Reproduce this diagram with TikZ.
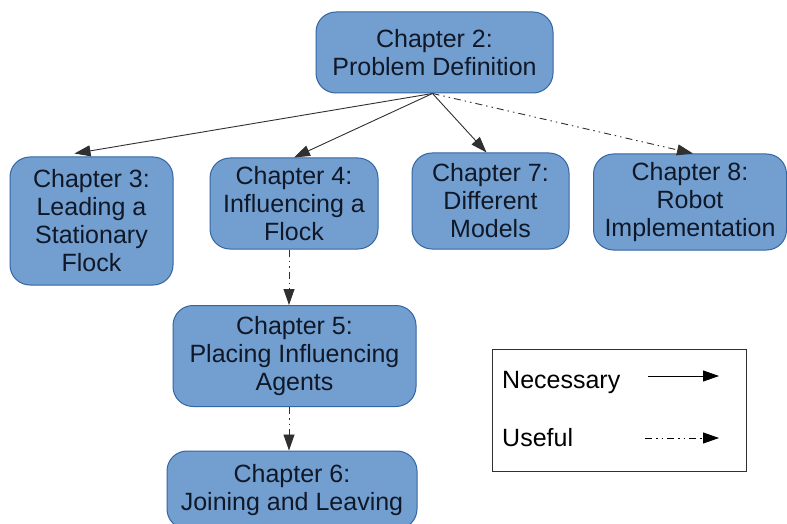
\documentclass[tikz,border=0pt]{standalone}
\usepackage{fontspec}
\setmainfont{Liberation Sans}
\usetikzlibrary{arrows.meta}
\definecolor{boxfill}{HTML}{729FCF}
\definecolor{boxline}{HTML}{3465A4}
\definecolor{inkc}{HTML}{101828}
\definecolor{linec}{HTML}{303030}
\newcommand{\chapfont}{\fontsize{25}{28}\selectfont}
\tikzset{
  chap/.style={draw=boxline, fill=boxfill, line width=1pt, rounded corners=20pt,
    align=center, font=\chapfont, text=inkc, inner sep=0pt},
  needed/.style={draw=linec, line width=0.9pt, -{Triangle[length=16pt,width=11pt]}},
  useful/.style={draw=linec, line width=0.9pt,
    dash pattern=on 7pt off 4pt on 1.5pt off 4pt on 1.5pt off 4pt,
    -{Triangle[length=16pt,width=11pt]}},
  legtext/.style={font=\chapfont, text=black, anchor=west, inner sep=0pt}
}
\begin{document}
\begin{tikzpicture}[x=1pt,y=-1pt]
\clip (0,0) rectangle (787,524);
\fill[white] (0,0) rectangle (787,524);

% chapter boxes
\node[chap, minimum width=237, minimum height=81] (c2) at (434.5,52.5) {Chapter 2:\\Problem Definition};
\node[chap, minimum width=163, minimum height=128] (c3) at (91.5,221) {Chapter 3:\\Leading a\\Stationary\\Flock};
\node[chap, minimum width=168, minimum height=91] (c4) at (294,203.5) {Chapter 4:\\Influencing a\\Flock};
\node[chap, minimum width=157, minimum height=96] (c7) at (490.5,201) {Chapter 7:\\Different\\Models};
\node[chap, minimum width=193, minimum height=96] (c8) at (690,202) {Chapter 8:\\Robot\\Implementation};
\node[chap, minimum width=243, minimum height=101] (c5) at (294.5,356) {Chapter 5:\\Placing Influencing\\Agents};
\node[chap, minimum width=250, minimum height=78] (c6) at (292,490) {Chapter 6:\\Joining and Leaving};

% dependencies
\coordinate (hub) at ([xshift=-2pt]c2.south);
\draw[needed] (hub) -- ([xshift=-17pt,yshift=3pt]c3.north);
\draw[needed] (hub) -- (c4.north);
\draw[needed] (hub) -- ([xshift=-4pt]c7.north);
\draw[useful] (hub) -- ([xshift=3pt]c8.north);
\draw[useful] ([xshift=-5pt]c4.south) -- ([xshift=-5.5pt]c5.north);
\draw[useful] ([xshift=-5.5pt]c5.south) -- ([xshift=-3pt]c6.north);

% legend
\node[draw=linec, line width=1pt, minimum width=254, minimum height=122, inner sep=0pt] (lg) at (619,410) {};
\node[legtext] (nec) at (502,382) {Necessary};
\node[legtext] (use) at (502,438) {Useful};
\coordinate (n1) at (648,376);
\coordinate (n2) at (719,376);
\coordinate (u1) at (645,438);
\coordinate (u2) at (719,438);
\draw[needed, draw=black] (n1) -- (n2);
\draw[useful, draw=black] (u1) -- (u2);
\end{tikzpicture}
\end{document}
